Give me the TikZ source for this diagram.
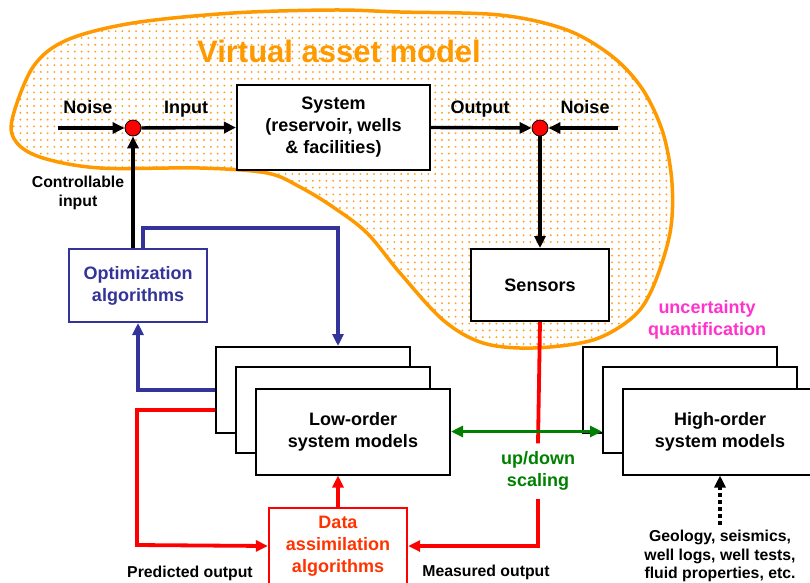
\documentclass[tikz,border=0pt]{standalone}
\usepackage{fontspec}
\setmainfont{Liberation Sans}
\usetikzlibrary{arrows.meta,patterns.meta}

\definecolor{vaorange}{HTML}{FF9900}
\definecolor{dotorange}{HTML}{FFA020}
\definecolor{optblue}{HTML}{333399}
\definecolor{darred}{HTML}{FF3300}
\definecolor{scalegreen}{HTML}{008000}
\definecolor{uqpink}{HTML}{FF33CC}

\newcommand{\mainlbl}{\fontsize{18}{22}\selectfont\bfseries}
\newcommand{\smalllbl}{\fontsize{15.8}{18.5}\selectfont\bfseries}
\newcommand{\titlelbl}{\fontsize{31}{36}\selectfont\bfseries}

\tikzset{
  blkbox/.style={draw, line width=2pt, fill=white, align=center, inner sep=0pt, font=\mainlbl},
  stackbox/.style={blkbox, minimum width=194pt, minimum height=86pt},
  sumdot/.style={circle, draw, line width=0.8pt, fill=red, minimum size=16pt, inner sep=0pt},
  lbl/.style={font=\mainlbl, align=center, inner sep=0pt},
  smlbl/.style={font=\smalllbl, align=center, inner sep=0pt},
  tip/.style={-{Triangle[length=12pt,width=11pt]}},
  blkline/.style={line width=3.4pt, tip},
  blueline/.style={optblue, line width=3.8pt},
  redline/.style={red, line width=3.8pt}
}

\begin{document}
\begin{tikzpicture}[x=1pt,y=-1pt]
\useasboundingbox (0,0) rectangle (810,582);

% virtual asset model
\draw[vaorange, line width=3.5pt, pattern={Dots[radius=1.05pt,distance=6.8pt]}, pattern color=dotorange]
  plot[smooth cycle, tension=0.55] coordinates {
    (12,120) (33,67) (67,40) (133,23) (233,13) (333,10) (400,12) (500,15)
    (567,30) (613,57) (643,90) (663,133) (672,183) (670,233) (653,287)
    (633,317) (593,340) (533,348) (483,343) (443,320) (400,273) (367,233)
    (333,207) (300,187) (267,173) (200,168) (100,168) (43,158) (17,143)};
\node[font=\titlelbl, text=vaorange, inner sep=0pt] (title) at (339,51) {Virtual asset model};

\node[blkbox, minimum width=193pt, minimum height=85pt] (sys) at (333.5,127.5) {System\\(reservoir, wells\\\& facilities)};
\node[sumdot] (cin) at (133,128) {};
\node[sumdot] (cout) at (540,128) {};
\coordinate (nin) at (58,128);
\coordinate (nout) at (618,128);
\node[lbl, anchor=base] (noisein) at (88,113) {Noise};
\node[lbl, anchor=base] (input) at (186,113) {Input};
\node[lbl, anchor=base] (output) at (480,113) {Output};
\node[lbl, anchor=base] (noiseout) at (585,113) {Noise};
\node[smlbl] (ctrl) at (78,193) {Controllable\\input};

\node[blkbox, draw=optblue, text=optblue, minimum width=138pt, minimum height=73pt] (opt) at (138,285.5) {Optimization\\algorithms};
\node[blkbox, minimum width=138pt, minimum height=72pt] (sen) at (540,285) {Sensors};

\node[stackbox] (low3) at (313,390) {};
\node[stackbox] (low2) at (333,410) {};
\node[stackbox] (low1) at (353,431.5) {Low-order\\system models};

\node[stackbox] (high3) at (680,390) {};
\node[stackbox] (high2) at (700,410) {};
\node[stackbox] (high1) at (720,431.5) {High-order\\system models};

\node[blkbox, draw=red, line width=2.4pt, text=darred, minimum width=138pt, minimum height=76pt] (dat) at (338,546) {Data\\assimilation\\algorithms};

\node[lbl, text=uqpink] (uq) at (707,320) {uncertainty\\quantification};
\node[lbl, text=scalegreen, inner ysep=8pt] (scale) at (538,471) {up/down\\scaling};
\node[smlbl] (geo) at (720,556) {Geology, seismics,\\well logs, well tests,\\fluid properties, etc.};
\node[smlbl, anchor=base] (pred) at (190,577) {Predicted output};
\node[smlbl, anchor=base] (meas) at (486,576) {Measured output};

% signal path
\draw[blkline] (nin) -- (cin);
\draw[blkline] (cin) -- (sys.west);
\draw[blkline] (sys.east) -- (cout);
\draw[blkline] (nout) -- (cout);
\draw[blkline] (cout) -- (sen.north);
\draw[blkline] (cin |- opt.north) -- (cin);

% optimization loop
\draw[blueline, tip] ([xshift=5pt]opt.north) -- ++(0,-20) -| ([xshift=25pt]low3.north);
\draw[blueline, tip] (low3.west) -| (opt.south);

% data assimilation loop
\coordinate (pcorner) at (137,545);
\draw[redline, tip] ([yshift=-20pt]low3.west) -| (pcorner) -- (dat.west);
\draw[redline, tip] (dat.north) -- (dat.north |- low1.south);
\draw[redline] (sen.south) -- (scale.north);
\draw[redline, tip] (scale.south) |- (dat.east);

\draw[scalegreen, line width=3.4pt, {Triangle[length=12pt,width=11pt]}-{Triangle[length=12pt,width=11pt]}] (low1.east) -- (low1.east -| high2.west);
\draw[line width=3.4pt, dash pattern=on 4pt off 3pt, tip] ([yshift=5pt]geo.north) -- (high1.south);
\end{tikzpicture}
\end{document}
